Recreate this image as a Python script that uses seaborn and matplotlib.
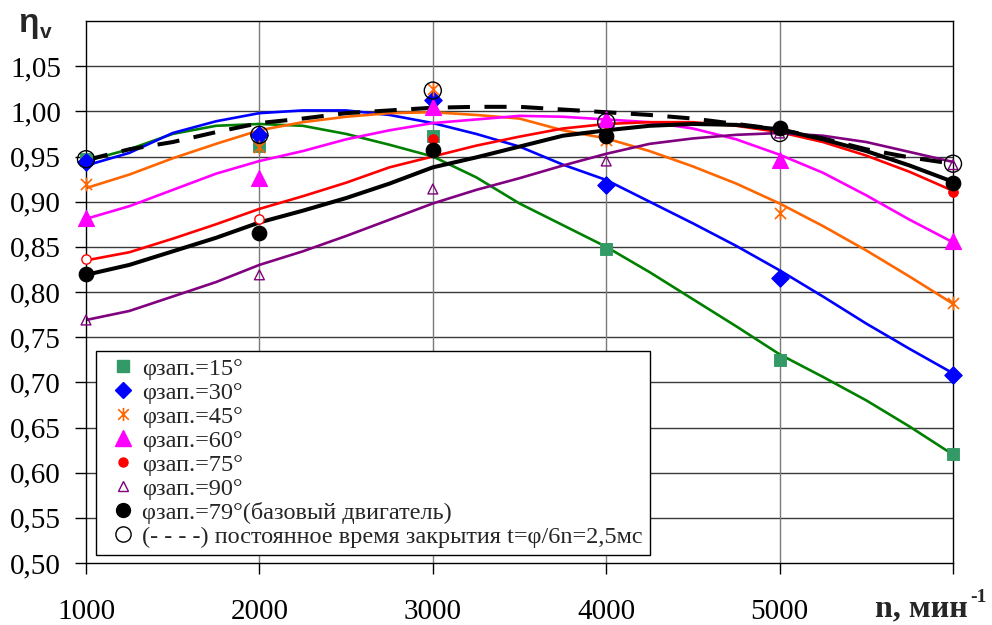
import matplotlib
matplotlib.use("Agg")
from matplotlib import pyplot as plt
from matplotlib.lines import Line2D
from matplotlib.path import Path
import seaborn as sns

# measured points
N_PTS = [1000, 2000, 3000, 4000, 5000, 6000]
PTS_15 = [0.947, 0.962, 0.973, 0.848, 0.725, 0.621]
PTS_30 = [0.944, 0.974, 1.013, 0.919, 0.815, 0.708]
PTS_45 = [0.920, 0.960, 1.025, 0.968, 0.888, 0.788]
PTS_60 = [0.882, 0.926, 1.005, 0.991, 0.946, 0.857]
PTS_75 = [0.836, 0.881, 0.969, 0.976, 0.979, 0.911]
PTS_90 = [0.769, 0.819, 0.914, 0.945, 0.976, 0.941]
PTS_79 = [0.820, 0.865, 0.957, 0.973, 0.981, 0.921]
PTS_CONST = [0.947, 0.974, 1.023, 0.988, 0.976, 0.942]

# calculated curves
N_CURVE = [1000, 1250, 1500, 1750, 2000, 2250, 2500, 2750, 3000, 3250, 3500,
           3750, 4000, 4250, 4500, 4750, 5000, 5250, 5500, 5750, 6000]
CURVE_15 = [0.945, 0.958, 0.975, 0.984, 0.986, 0.984, 0.975, 0.963, 0.950, 0.927, 0.898,
            0.874, 0.850, 0.822, 0.792, 0.762, 0.731, 0.706, 0.680, 0.651, 0.620]
CURVE_30 = [0.940, 0.954, 0.976, 0.989, 0.998, 1.001, 1.001, 0.996, 0.987, 0.975, 0.961,
            0.941, 0.924, 0.900, 0.876, 0.851, 0.824, 0.795, 0.765, 0.737, 0.710]
CURVE_45 = [0.915, 0.930, 0.948, 0.964, 0.979, 0.988, 0.994, 0.998, 0.999, 0.996, 0.992,
            0.979, 0.970, 0.956, 0.939, 0.920, 0.898, 0.873, 0.846, 0.817, 0.787]
CURVE_60 = [0.881, 0.895, 0.913, 0.931, 0.945, 0.956, 0.969, 0.979, 0.987, 0.991, 0.995,
            0.994, 0.991, 0.988, 0.981, 0.969, 0.952, 0.932, 0.907, 0.880, 0.855]
CURVE_75 = [0.835, 0.844, 0.859, 0.875, 0.892, 0.906, 0.921, 0.938, 0.950, 0.962, 0.972,
            0.981, 0.986, 0.988, 0.988, 0.984, 0.977, 0.966, 0.951, 0.933, 0.912]
CURVE_90 = [0.769, 0.779, 0.795, 0.811, 0.830, 0.845, 0.862, 0.880, 0.898, 0.913, 0.926,
            0.940, 0.953, 0.964, 0.970, 0.974, 0.976, 0.973, 0.966, 0.955, 0.944]
CURVE_79 = [0.819, 0.830, 0.845, 0.860, 0.877, 0.890, 0.904, 0.920, 0.938, 0.949, 0.961,
            0.973, 0.979, 0.984, 0.986, 0.985, 0.980, 0.969, 0.956, 0.940, 0.922]
CURVE_CONST = [0.946, 0.958, 0.966, 0.977, 0.987, 0.992, 0.998, 1.001, 1.004, 1.005, 1.005,
               1.002, 0.999, 0.996, 0.992, 0.986, 0.980, 0.970, 0.958, 0.949, 0.942]

LABELS = ["φзап.=15°", "φзап.=30°", "φзап.=45°", "φзап.=60°", "φзап.=75°",
          "φзап.=90°", "φзап.=79°(базовый двигатель)",
          "(- - - -) постоянное время закрытия t=φ/6n=2,5мс"]
Y_TICKS = [0.50, 0.55, 0.60, 0.65, 0.70, 0.75, 0.80, 0.85, 0.90, 0.95, 1.00, 1.05]
X_TICKS = [1000, 2000, 3000, 4000, 5000, 6000]

sns.set_style("white")
plt.rcParams['font.family'] = ['Liberation Serif', 'DejaVu Serif']

# Excel-like star marker: X with a vertical bar
STAR = Path([(-1, -1), (1, 1), (-1, 1), (1, -1), (0, -1.25), (0, 1.25)],
            [Path.MOVETO, Path.LINETO, Path.MOVETO, Path.LINETO, Path.MOVETO, Path.LINETO])

fig = plt.figure(figsize=(9.92, 6.25), dpi=100)
ax = fig.add_axes([0.0867, 0.0992, 0.874, 0.8672])

# curves
sns.lineplot(x=N_CURVE, y=CURVE_15, ax=ax, color='#008000', linewidth=1.9)
sns.lineplot(x=N_CURVE, y=CURVE_30, ax=ax, color='#0000FF', linewidth=1.9)
sns.lineplot(x=N_CURVE, y=CURVE_45, ax=ax, color='#FF6600', linewidth=1.9)
sns.lineplot(x=N_CURVE, y=CURVE_60, ax=ax, color='#FF00FF', linewidth=1.9)
sns.lineplot(x=N_CURVE, y=CURVE_75, ax=ax, color='#FF0000', linewidth=1.9)
sns.lineplot(x=N_CURVE, y=CURVE_90, ax=ax, color='#800080', linewidth=1.9)
sns.lineplot(x=N_CURVE, y=CURVE_79, ax=ax, color='black', linewidth=2.9)
sns.lineplot(x=N_CURVE, y=CURVE_CONST, ax=ax, color='black', linewidth=2.9,
             linestyle=(0, (5.5, 3.6)))

# points
kw = dict(ax=ax, clip_on=False, zorder=5)
sns.scatterplot(x=N_PTS, y=PTS_15, marker='s', s=64, color='#339966', edgecolor='#339966', **kw)
sns.scatterplot(x=N_PTS, y=PTS_30, marker='D', s=80, color='#0000FF', edgecolor='#0000FF', **kw)
sns.scatterplot(x=N_PTS, y=PTS_45, marker=STAR, s=100, color='#FF6600', edgecolor='#FF6600',
                linewidth=1.2, **kw)
sns.scatterplot(x=N_PTS, y=PTS_60, marker='^', s=130, color='#FF00FF', edgecolor='#FF00FF', **kw)
sns.scatterplot(x=N_PTS[:2], y=PTS_75[:2], marker='o', s=45, facecolor='white',
                edgecolor='#FF0000', linewidth=1.0, **kw)
sns.scatterplot(x=N_PTS[2:], y=PTS_75[2:], marker='o', s=50, color='#FF0000', edgecolor='#FF0000', **kw)
sns.scatterplot(x=N_PTS, y=PTS_90, marker='^', s=50, facecolor='none', edgecolor='#800080',
                linewidth=1.0, **kw)
sns.scatterplot(x=N_PTS, y=PTS_79, marker='o', s=110, color='black', edgecolor='black', **kw)
sns.scatterplot(x=N_PTS, y=PTS_CONST, marker='o', s=150, facecolor='none', edgecolor='black',
                linewidth=1.0, **kw)

ax.set_xlim(1000, 6000)
ax.set_ylim(0.50, 1.10)
ax.set_xticks(X_TICKS)
ax.set_xticklabels([str(v) for v in X_TICKS[:-1]] + [''])
ax.set_yticks(Y_TICKS)
ax.set_yticklabels([f"{v:.2f}".replace('.', ',') for v in Y_TICKS])
ax.tick_params(axis='x', direction='out', length=8, width=1, pad=18, labelsize=21, colors='black')
ax.tick_params(axis='y', direction='out', length=8, width=1, pad=10, labelsize=21, colors='black')
ax.tick_params(left=True, bottom=True)
ax.grid(False)
for v in Y_TICKS[1:]:
    ax.axhline(v, color='#3a3a3a', linewidth=1.0, zorder=0)
for v in X_TICKS[1:-1]:
    ax.axvline(v, color='#7a7a7a', linewidth=1.0, zorder=0)
for sp in ax.spines.values():
    sp.set_color('black')
    sp.set_linewidth(1.0)

handles = [
    Line2D([], [], linestyle='none', marker='s', markersize=8, color='#339966'),
    Line2D([], [], linestyle='none', marker='D', markersize=8.5, color='#0000FF'),
    Line2D([], [], linestyle='none', marker=STAR, markersize=9.5, color='#FF6600', markeredgewidth=1.2),
    Line2D([], [], linestyle='none', marker='^', markersize=11, color='#FF00FF'),
    Line2D([], [], linestyle='none', marker='o', markersize=6.5, color='#FF0000'),
    Line2D([], [], linestyle='none', marker='^', markersize=7, markerfacecolor='none',
           markeredgecolor='#800080'),
    Line2D([], [], linestyle='none', marker='o', markersize=10, color='black'),
    Line2D([], [], linestyle='none', marker='o', markersize=11, markerfacecolor='none',
           markeredgecolor='black'),
]
leg = ax.legend(handles, LABELS, loc='lower left', bbox_to_anchor=(0.0115, 0.0148),
                borderaxespad=0, fontsize=17.5, labelspacing=0.08, handlelength=1.6,
                handletextpad=0.0, borderpad=0.3, frameon=True, fancybox=False,
                framealpha=1, edgecolor='black')
leg.get_frame().set_linewidth(1.0)
leg.set_zorder(10)

fig.text(18 / 992, 1 - 32 / 625, 'η', fontsize=24, fontweight='bold',
         family=['Liberation Sans', 'DejaVu Sans'], va='baseline')
fig.text(40 / 992, 1 - 38 / 625, 'v', fontsize=15, fontweight='bold',
         family=['Liberation Sans', 'DejaVu Sans'], va='baseline')
fig.text(968 / 992, 1 - 616 / 625, 'n, мин', fontsize=23, fontweight='bold',
         ha='right', va='baseline')
fig.text(970 / 992, 1 - 602 / 625, '-1', fontsize=14, fontweight='bold',
         ha='left', va='baseline')

plt.savefig('out.png', dpi=100)
